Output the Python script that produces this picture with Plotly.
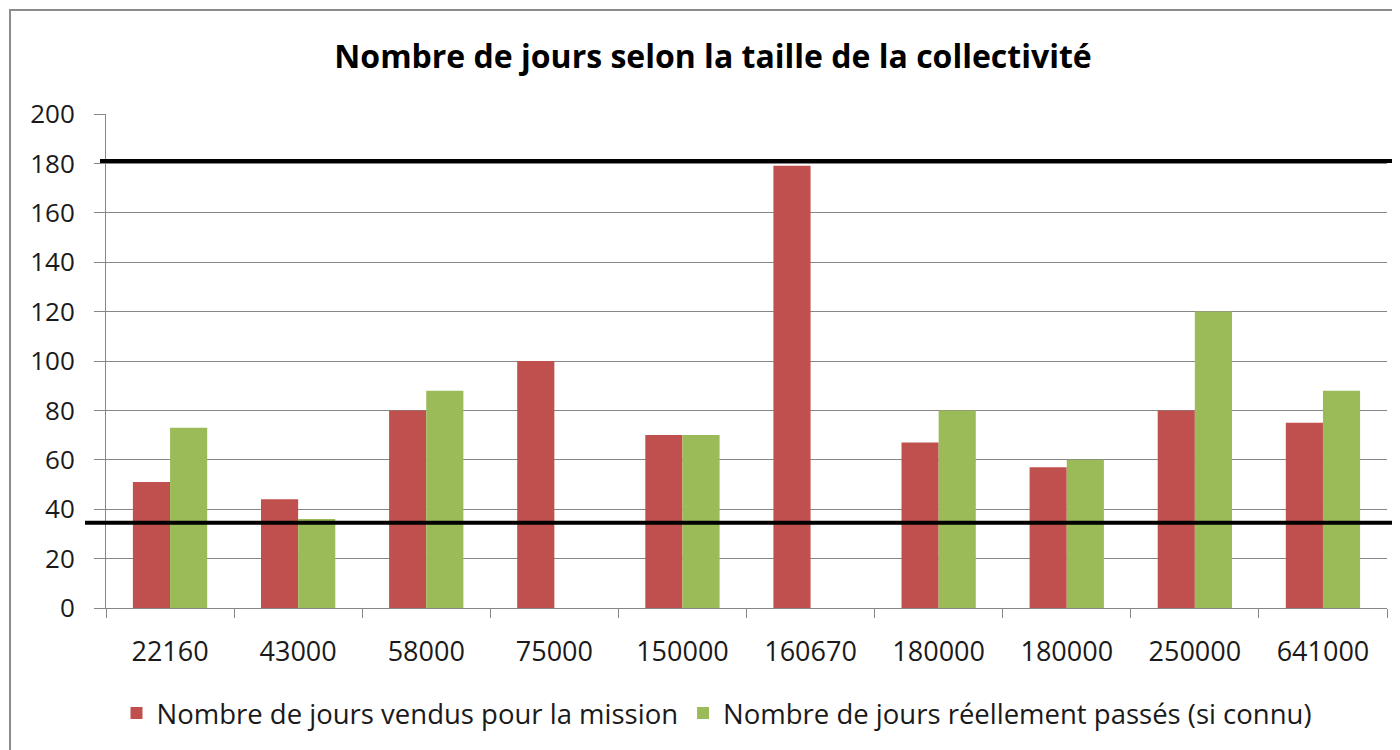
import plotly.graph_objects as go

categories = ["22160", "43000", "58000", "75000", "150000", "160670", "180000", "180000", "250000", "641000"]
vendus = [51, 44, 80, 100, 70, 179, 67, 57, 80, 75]
reels = [73, 36, 88, None, 70, None, 80, 60, 120, 88]
ref_lines = [181, 34.5]
series_names = ["Nombre de jours vendus pour la mission", "Nombre de jours réellement passés (si connu)"]
title = "Nombre de jours selon la taille de la collectivité"

OFF = 8  # browser body margin
W, H = 1400 - OFF, 750 - OFF
L, R, T, B = 106 - OFF, 13, 114 - OFF, 142
pw, ph = W - L - R, H - T - B

def px_x(p):
    return (p - OFF - L) / pw

def px_y(p):
    return (H - B - (p - OFF)) / ph

xpos = list(range(len(categories)))
font = "'Open Sans', Lato, sans-serif"

fig = go.Figure()
fig.add_trace(go.Bar(x=xpos, y=vendus, name=series_names[0], marker=dict(color="#C0504D", line=dict(width=0))))
fig.add_trace(go.Bar(x=xpos, y=reels, name=series_names[1], marker=dict(color="#9BBB59", line=dict(width=0))))

shapes = [
    dict(type="rect", xref="paper", yref="paper", x0=px_x(10), x1=px_x(1410), y0=px_y(10), y1=px_y(760),
         line=dict(color="#8c8c8c", width=2), fillcolor="rgba(0,0,0,0)", layer="below"),
    dict(type="line", xref="paper", yref="y", x0=px_x(100), x1=px_x(1402), y0=ref_lines[0], y1=ref_lines[0],
         line=dict(color="black", width=4)),
    dict(type="line", xref="paper", yref="y", x0=px_x(85), x1=px_x(1402), y0=ref_lines[1], y1=ref_lines[1],
         line=dict(color="black", width=4)),
]

fig.update_layout(
    width=W, height=H,
    margin=dict(l=L, r=R, t=T, b=B),
    paper_bgcolor="white", plot_bgcolor="white",
    font=dict(family=font, size=26, color="#1a1a1a"),
    title=dict(text="<b>" + title + "</b>", xref="container", x=(713 - OFF) / W, xanchor="center",
               yref="container", y=1 - (57 - OFF) / H, yanchor="middle",
               font=dict(size=32, color="black", family=font)),
    barmode="group", bargap=0.42, bargroupgap=0,
    shapes=shapes,
    legend=dict(orientation="h", x=px_x(717), xanchor="center", y=px_y(713), yanchor="middle",
                font=dict(size=27.5), itemwidth=30, traceorder="normal"),
    xaxis=dict(range=[-0.5, len(categories) - 0.5], tickvals=xpos, ticktext=categories, ticks="",
               showgrid=False, showline=True, linecolor="#868686", linewidth=1,
               ticklabelstandoff=20, tickfont=dict(size=27),
               minor=dict(tickvals=[i - 0.5 for i in range(len(categories) + 1)], ticks="outside",
                          ticklen=9, tickcolor="#868686", showgrid=False)),
    yaxis=dict(range=[0, 200], dtick=20, showgrid=True, gridcolor="#868686", gridwidth=1,
               showline=True, linecolor="#868686", ticks="outside", ticklen=11, tickcolor="#868686",
               ticklabelstandoff=14, tickfont=dict(size=26), zeroline=False),
)

fig.write_html("out.html")
